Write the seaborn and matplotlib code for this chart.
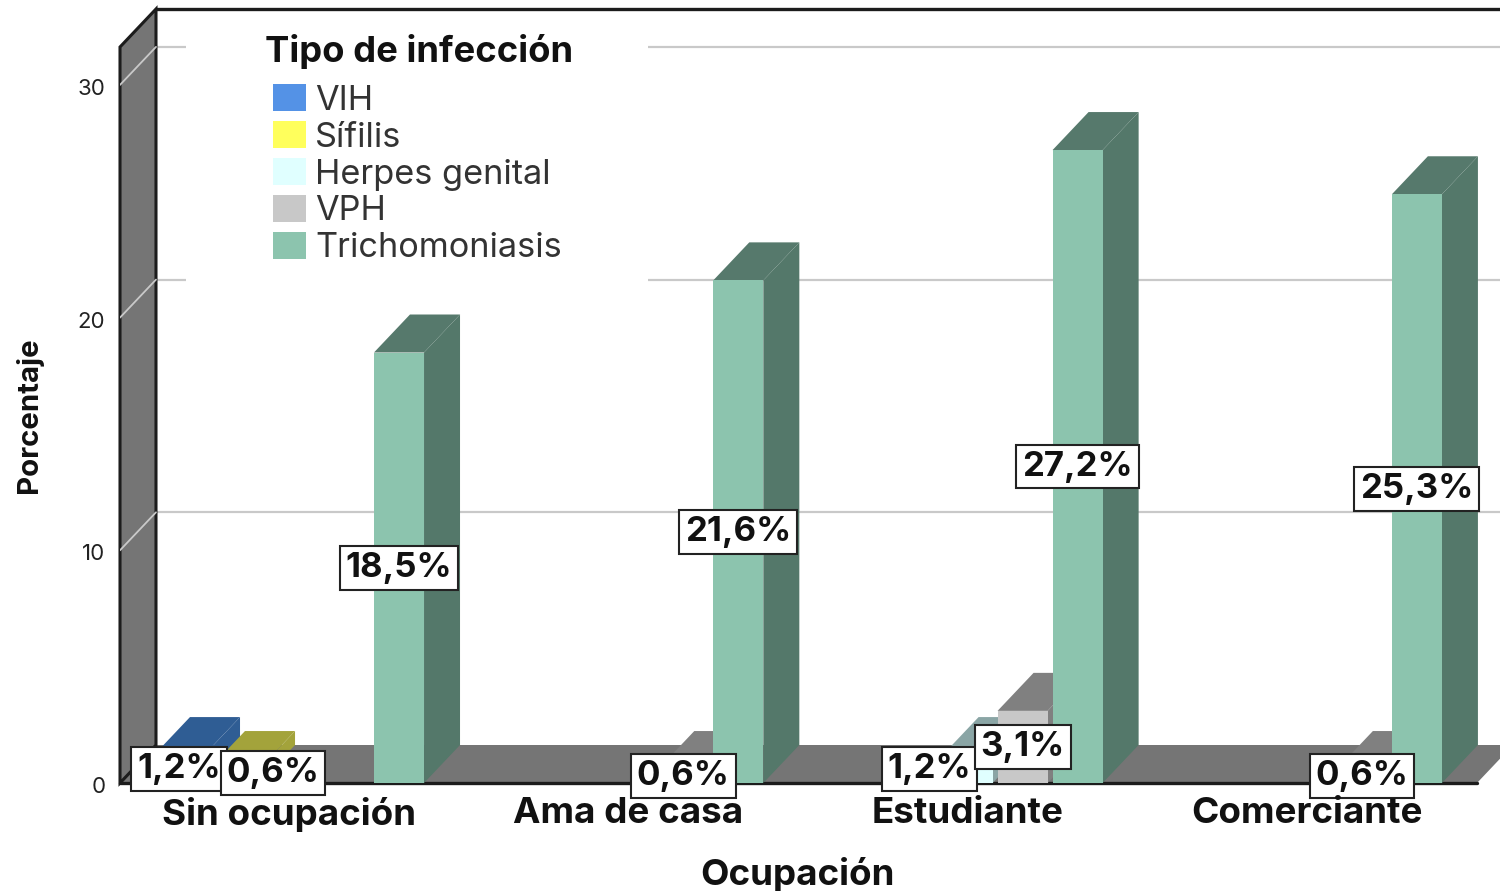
import matplotlib
matplotlib.use("Agg")
import matplotlib.pyplot as plt
from matplotlib.patches import Polygon, Rectangle
from matplotlib.transforms import ScaledTranslation
import pandas as pd
import seaborn as sns

occupations = ["Sin ocupación", "Ama de casa", "Estudiante", "Comerciante"]
infections = ["VIH", "Sífilis", "Herpes genital", "VPH", "Trichomoniasis"]
vih = [1.2, 0, 0, 0]
sifilis = [0.6, 0, 0, 0]
herpes = [0, 0, 1.2, 0]
vph = [0, 0.6, 3.1, 0.6]
trichomoniasis = [18.5, 21.6, 27.2, 25.3]

front_colors = ["#5492E6", "#FFFF5C", "#E0FFFF", "#C8C8C8", "#8CC4AE"]
top_colors = ["#2F5D94", "#A3A33B", "#8AA5A5", "#808080", "#56796C"]
side_colors = ["#2F5D94", "#A3A33B", "#8AA5A5", "#808080", "#54786A"]

sns.set_theme(style="white")
plt.rcParams["font.family"] = ["Inter", "DejaVu Sans"]

W, H = 1500, 891
fig = plt.figure(figsize=(W / 100, H / 100), dpi=100, facecolor="white")
ax = fig.add_axes([120 / W, (H - 783) / H, 1380 / W, 773 / H])

rows = []
for name, series in zip(infections, [vih, sifilis, herpes, vph, trichomoniasis]):
    for occ, val in zip(occupations, series):
        rows.append({"Ocupación": occ, "Tipo": name, "Porcentaje": val})
df = pd.DataFrame(rows)

sns.barplot(data=df, x="Ocupación", y="Porcentaje", hue="Tipo",
            order=occupations, hue_order=infections,
            palette=dict(zip(infections, front_colors)), saturation=1,
            width=0.8105, gap=0.09, linewidth=0, ax=ax)

PX_X = 339.3
PX_Y = 23.27
XL = -(289 - 120) / PX_X
XR = (1500 - 289) / PX_X
ax.set_xlim(XL, XR)
ax.set_ylim(0, 773 / PX_Y)
DX = 36 / PX_X
DY = 38 / PX_Y
XF = (1477 - 289) / PX_X
YT = (783 - 47) / PX_Y

for s in ax.spines.values():
    s.set_visible(False)

DARK = "#1c1c1c"
GRID = "#c9c9c9"
WALL = "#757575"

for v in [10, 20, 30]:
    ax.plot([XL + DX, XR + DX], [v + DY, v + DY], color=GRID, lw=1.6, zorder=0.4)
    ax.plot([XL, XL + DX], [v, v + DY], color=GRID, lw=1.3, zorder=1.2)

ax.add_patch(Rectangle((186 / W, (H - 290) / H), 462 / W, 275 / H,
                       transform=fig.transFigure, fc="white", ec="none", zorder=0.5))

ax.add_patch(Polygon([(XL, 0), (XL + DX, DY), (XF + DX, DY), (XF, 0)],
                     fc=WALL, ec="none", zorder=1))
ax.add_patch(Polygon([(XL, 0), (XL, YT), (XL + DX, YT + DY), (XL + DX, DY)],
                     fc=WALL, ec=DARK, lw=2.2, zorder=1.1, clip_on=False))
ax.plot([XL + DX, XR + DX], [YT + DY, YT + DY], color=DARK, lw=2.4, zorder=1.3, clip_on=False)
ax.plot([XL, XF], [0, 0], color=DARK, lw=2.4, zorder=1.3, clip_on=False)

nudges = {("Sífilis", 0): (39, 3), ("Herpes genital", 2): (-38, 0)}
for j, (name, cont) in enumerate(zip(infections, ax.containers)):
    for i, bar in enumerate(cont):
        h = bar.get_height()
        if not h:
            bar.set_visible(False)
            continue
        x0, w = bar.get_x(), bar.get_width()
        z = 2 + i + j * 0.1
        bar.set_zorder(z + 0.02)
        ax.add_patch(Polygon([(x0, h), (x0 + DX, h + DY), (x0 + w + DX, h + DY), (x0 + w, h)],
                             fc=top_colors[j], ec="none", zorder=z))
        ax.add_patch(Polygon([(x0 + w, 0), (x0 + w, h), (x0 + w + DX, h + DY), (x0 + w + DX, DY)],
                             fc=side_colors[j], ec="none", zorder=z + 0.01))
        nx, ny = nudges.get((name, i), (0, 0))
        ax.annotate(f"{h:.1f}%".replace(".", ","), xy=(x0 + w / 2, h / 2),
                    xytext=(nx * 0.72, ny * 0.72), textcoords="offset points",
                    ha="center", va="center", fontsize=25, fontweight="bold", color="#111111",
                    bbox=dict(boxstyle="square,pad=0.17", fc="white", ec="#222222", lw=1.5),
                    zorder=20 + j * 0.1, annotation_clip=False)

ax.set_yticks([0, 10, 20, 30])
ax.tick_params(axis="y", length=0, pad=10.5, labelsize=16, labelcolor="#222222")
ax.tick_params(axis="x", length=0, pad=10, labelsize=26.5, labelcolor="#111111")
for t in ax.get_xticklabels():
    t.set_fontweight("bold")
ax.xaxis.set_zorder(30)
shift = ScaledTranslation(0, -2 / 100, fig.dpi_scale_trans)
for t in ax.get_yticklabels():
    t.set_transform(t.get_transform() + shift)

ax.set_xlabel("")
ax.set_ylabel("")
fig.text(797 / W, (H - 874) / H, "Ocupación", ha="center", va="center",
         fontsize=26.5, fontweight="bold", color="#111111")
fig.text(29 / W, (H - 415) / H, "Porcentaje", ha="center", va="center", rotation=90,
         fontsize=21.2, fontweight="bold", color="#111111")

sns.move_legend(ax, "upper left", bbox_to_anchor=(273 / W, (H - 34) / H),
                bbox_transform=fig.transFigure, title="Tipo de infección",
                frameon=False, fontsize=24.7, alignment="left", borderpad=0, borderaxespad=0,
                handlelength=0.96, handleheight=0.84, handletextpad=0.27,
                labelspacing=0.13)
leg = ax.get_legend()
leg.get_title().set_fontweight("bold")
leg.get_title().set_fontsize(26.2)
leg.get_title().set_color("#111111")
leg.get_title().set_position((-8, 0))
leg._legend_box.sep = 11
leg.set_zorder(15)
for t in leg.get_texts():
    t.set_color("#333333")

fig.savefig("out.png", dpi=100, facecolor="white")
